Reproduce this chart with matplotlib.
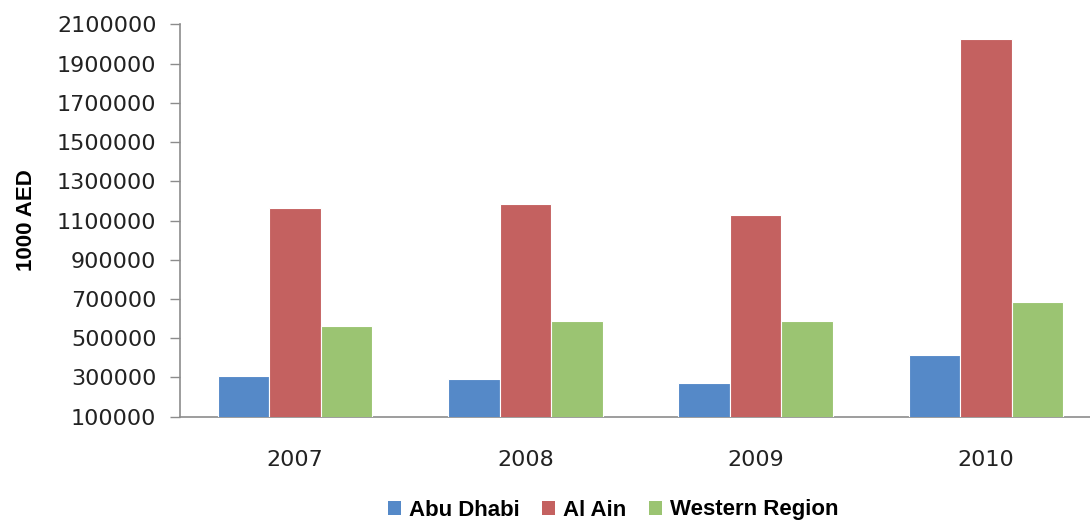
import matplotlib
matplotlib.use("Agg")
import matplotlib.pyplot as plt
from matplotlib.patches import Patch
import numpy as np

# values in 1000 AED
years = ["2007", "2008", "2009", "2010"]
series = ["Abu Dhabi", "Al Ain", "Western Region"]
abu_dhabi = [305000, 291000, 271000, 416000]
al_ain = [1162000, 1183000, 1130000, 2023000]
western = [560000, 586000, 586000, 685000]
colors = ["#5589C8", "#C46160", "#9BC472"]

fig = plt.figure(figsize=(10.9, 5.21), dpi=100)
# the plot area runs past the right edge of the picture, as in the reference
ax = fig.add_axes([180 / 1090, 104.3 / 521, 921 / 1090, 392.4 / 521])

x = np.arange(len(years))
w = 0.224
for i, (vals, c) in enumerate(zip([abu_dhabi, al_ain, western], colors)):
    ax.bar(x + (i - 1) * w, vals, width=w, color=c, edgecolor="white",
           linewidth=0.8, zorder=3)

ax.set_xlim(-0.5, 3.5)
ax.set_ylim(100000, 2100000)
ax.set_yticks(np.arange(100000, 2100001, 200000))
ax.set_yticklabels([str(v) for v in range(100000, 2100001, 200000)])
ax.set_xticks(x)
ax.set_xticklabels(years)

for s in ["top", "right"]:
    ax.spines[s].set_visible(False)
for s in ["left", "bottom"]:
    ax.spines[s].set_color("#8C8C8C")
    ax.spines[s].set_linewidth(1.2)

ax.tick_params(axis="y", length=7, width=1.0, color="#8C8C8C", pad=10,
               labelsize=16, labelcolor="#222222")
ax.tick_params(axis="x", length=0, pad=24, labelsize=16, labelcolor="#222222")

ax.set_ylabel("1000 AED", fontsize=16, fontweight="bold",
              family="Liberation Sans")
ax.yaxis.set_label_coords(-143 / 921, 0.5)

handles = [Patch(facecolor=c, edgecolor="none") for c in colors]
fig.legend(handles, series, loc="center", bbox_to_anchor=(613 / 1090, 11 / 521),
           ncol=3, frameon=False,
           prop={"family": "Liberation Sans", "weight": "bold", "size": 16},
           handlelength=0.6, handleheight=0.6, handletextpad=0.35,
           columnspacing=1.0, borderaxespad=0, borderpad=0)

fig.savefig("out.png", dpi=100)
